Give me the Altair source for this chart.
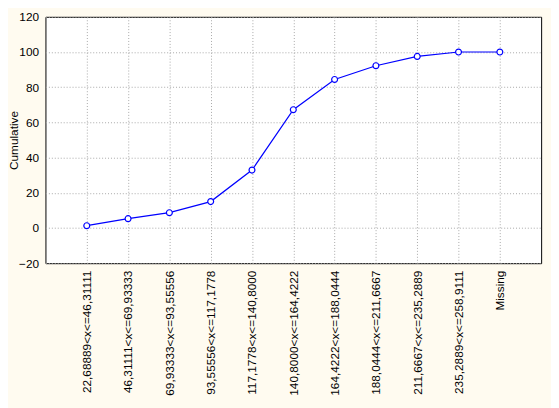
import altair as alt
import pandas as pd

categories = [
    "22,68889<x<=46,31111",
    "46,31111<x<=69,93333",
    "69,93333<x<=93,55556",
    "93,55556<x<=117,1778",
    "117,1778<x<=140,8000",
    "140,8000<x<=164,4222",
    "164,4222<x<=188,0444",
    "188,0444<x<=211,6667",
    "211,6667<x<=235,2889",
    "235,2889<x<=258,9111",
    "Missing",
]
cumulative = [1.3, 5.3, 8.7, 15.0, 32.9, 67.2, 84.4, 92.2, 97.5, 100, 100]
y_ticks = [-20, 0, 20, 40, 60, 80, 100, 120]

df = pd.DataFrame({"cat": categories, "val": cumulative})

FONT = "Liberation Sans"

x = alt.X(
    "cat:N",
    sort=categories,
    scale=alt.Scale(type="point", padding=1),
    axis=alt.Axis(
        title=None,
        labelAngle=-90,
        labelAlign="right",
        labelBaseline="middle",
        labelPadding=7,
        ticks=False,
        domain=False,
        grid=True,
        gridColor="#a8a8a8",
        gridDash=[1, 2],
        labelFont=FONT,
        labelFontSize=12,
        labelColor="#000000",
    ),
)
y = alt.Y(
    "val:Q",
    scale=alt.Scale(domain=[-20, 120], nice=False, zero=False),
    axis=alt.Axis(
        values=y_ticks,
        title="Cumulative",
        titleFont=FONT,
        titleFontSize=12,
        titleFontWeight="normal",
        titleColor="#000000",
        titleX=-28,
        titleY=125,
        titleAngle=-90,
        titleAlign="center",
        titleBaseline="alphabetic",
        ticks=False,
        domain=False,
        grid=True,
        gridColor="#a8a8a8",
        gridDash=[1, 2],
        labelPadding=7,
        labelFont=FONT,
        labelFontSize=12,
        labelColor="#000000",
    ),
)

line = alt.Chart(df).mark_line(color="#0000ff", strokeWidth=1.2).encode(x=x, y=y)
pts = alt.Chart(df).mark_point(
    shape="circle", size=36, filled=True, fill="#ffffff", stroke="#0000ff", strokeWidth=1.2, opacity=1
).encode(x=x, y=y)

chart = (
    alt.layer(line, pts)
    .properties(
        width=503,
        height=250,
        autosize=alt.AutoSizeParams(type="none"),
        padding={"left": 38, "top": 6, "right": 10, "bottom": 144},
        background="#fffbf0",
    )
    .configure_view(stroke="#000000", strokeWidth=1, fill="#ffffff")
)

chart.save("out.html", embed_options={"renderer": "svg", "actions": False})
